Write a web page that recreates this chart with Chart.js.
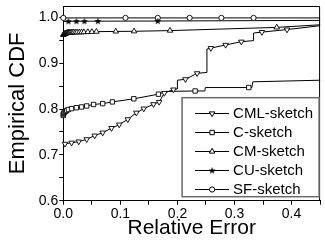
<!DOCTYPE html>
<html><head><meta charset="utf-8">
<script src="https://cdn.jsdelivr.net/npm/chart.js@4/dist/chart.umd.min.js"></script>
<style>html,body{margin:0;padding:0;background:#fff}#wrap{width:325px;height:244px}</style>
</head><body><div id="wrap"><canvas id="c" width="325" height="244"></canvas></div>
<script>
// ---------- data ----------
const seriesNames = ['CML-sketch', 'C-sketch', 'CM-sketch', 'CU-sketch', 'SF-sketch'];
const xTickLabels = ['0.0', '0.1', '0.2', '0.3', '0.4'];
const yTickLabels = ['0.6', '0.7', '0.8', '0.9', '1.0'];
const xAxisTitle = 'Relative Error';
const yAxisTitle = 'Empirical CDF';

// CML-sketch
const cmlLineX = [0, 0.003, 0.0145, 0.027, 0.041, 0.055, 0.069, 0.0845, 0.098, 0.113, 0.128, 0.141, 0.158, 0.168, 0.177, 0.193, 0.2, 0.2, 0.214, 0.2345, 0.2517, 0.2517, 0.2586, 0.2845, 0.312, 0.3334, 0.3334, 0.348, 0.392, 0.45];
const cmlLineY = [0.722, 0.724, 0.7265, 0.729, 0.734, 0.742, 0.7485, 0.7585, 0.766, 0.7775, 0.792, 0.801, 0.8105, 0.8155, 0.835, 0.8425, 0.844, 0.863, 0.865, 0.878, 0.880, 0.931, 0.933, 0.940, 0.947, 0.9495, 0.966, 0.968, 0.9735, 0.982];
const cmlMarkX = [0.003, 0.0145, 0.027, 0.041, 0.055, 0.069, 0.0845, 0.098, 0.113, 0.128, 0.141, 0.158, 0.168, 0.177, 0.193, 0.214, 0.2345, 0.2586, 0.2845, 0.312, 0.348, 0.392];
const cmlMarkY = [0.724, 0.7265, 0.729, 0.734, 0.742, 0.7485, 0.7585, 0.766, 0.7775, 0.792, 0.801, 0.8105, 0.8155, 0.835, 0.8425, 0.865, 0.878, 0.933, 0.940, 0.947, 0.968, 0.9735];

// C-sketch
const cLineX = [0, 0, 0.001, 0.002, 0.004, 0.006, 0.009, 0.0145, 0.023, 0.032, 0.041, 0.053, 0.069, 0.086, 0.1236, 0.1667, 0.18, 0.231, 0.248, 0.249, 0.3305, 0.332, 0.45];
const cLineY = [0.786, 0.789, 0.791, 0.793, 0.795, 0.797, 0.799, 0.801, 0.803, 0.8046, 0.8068, 0.810, 0.812, 0.8156, 0.8225, 0.8325, 0.8385, 0.8395, 0.8395, 0.847, 0.847, 0.8595, 0.863];
const cMarkX = [0, 0, 0.001, 0.002, 0.004, 0.006, 0.009, 0.0145, 0.023, 0.032, 0.041, 0.053, 0.069, 0.086, 0.1236, 0.1667, 0.231, 0.325];
const cMarkY = [0.786, 0.789, 0.791, 0.793, 0.795, 0.797, 0.799, 0.801, 0.803, 0.8046, 0.8068, 0.810, 0.812, 0.8156, 0.8225, 0.8325, 0.8395, 0.847];

// CM-sketch
const cmLineX = [0, 0.001, 0.002, 0.003, 0.004, 0.005, 0.006, 0.007, 0.008, 0.009, 0.010, 0.011, 0.012, 0.014, 0.016, 0.018, 0.021, 0.024, 0.028, 0.032, 0.036, 0.043, 0.05, 0.058, 0.092, 0.124, 0.187, 0.374, 0.45];
const cmLineY = [0.962, 0.9635, 0.964, 0.9645, 0.965, 0.9655, 0.966, 0.9663, 0.9665, 0.9667, 0.9668, 0.967, 0.967, 0.9672, 0.9673, 0.9674, 0.9675, 0.9676, 0.9677, 0.9678, 0.968, 0.9683, 0.9686, 0.969, 0.9695, 0.9698, 0.9713, 0.9783, 0.984];
const cmMarkX = [0, 0.001, 0.002, 0.003, 0.004, 0.005, 0.006, 0.007, 0.008, 0.009, 0.010, 0.011, 0.012, 0.014, 0.016, 0.018, 0.021, 0.024, 0.028, 0.032, 0.036, 0.043, 0.05, 0.058, 0.092, 0.124, 0.187, 0.374];
const cmMarkY = [0.962, 0.9635, 0.964, 0.9645, 0.965, 0.9655, 0.966, 0.9663, 0.9665, 0.9667, 0.9668, 0.967, 0.967, 0.9672, 0.9673, 0.9674, 0.9675, 0.9676, 0.9677, 0.9678, 0.968, 0.9683, 0.9686, 0.969, 0.9695, 0.9698, 0.9713, 0.9783];

// CU-sketch
const cuLineX = [0, 0.009, 0.023, 0.037, 0.0605, 0.1655, 0.45];
const cuLineY = [0.9912, 0.9917, 0.9918, 0.9918, 0.9919, 0.9922, 0.9936];
const cuMarkX = [0.009, 0.023, 0.037, 0.0605, 0.1655];
const cuMarkY = [0.9917, 0.9918, 0.9918, 0.9919, 0.9922];

// SF-sketch
const sfLineX = [0, 0.109, 0.1655, 0.2214, 0.277, 0.3334, 0.45];
const sfLineY = [0.999, 0.999, 0.999, 0.999, 0.999, 0.999, 0.999];
const sfMarkX = [0, 0.109, 0.1655, 0.2214, 0.277, 0.3334];
const sfMarkY = [0.999, 0.999, 0.999, 0.999, 0.999, 0.999];

// ---------- styles ----------
function makeStar() {
  const c = document.createElement('canvas');
  c.width = 8; c.height = 8;
  const g = c.getContext('2d');
  g.fillStyle = '#000';
  g.beginPath();
  for (let i = 0; i < 10; i++) {
    const r = i % 2 ? 1.5 : 3.8;
    const a = -Math.PI / 2 + i * Math.PI / 5;
    g.lineTo(4 + r * Math.cos(a), 4.3 + r * Math.sin(a));
  }
  g.closePath(); g.fill();
  return c;
}
const starImg = makeStar();
const FONT = '"Liberation Sans", Arial, Helvetica, sans-serif';
const styles = [
  { pointStyle: 'triangle', radius: 3.2, rotation: 180 },
  { pointStyle: 'rect', radius: 3.1, rotation: 0 },
  { pointStyle: 'triangle', radius: 3.2, rotation: 0 },
  { pointStyle: starImg, radius: 4, rotation: 0 },
  { pointStyle: 'circle', radius: 2.6, rotation: 0 }
];
const lines = [[cmlLineX, cmlLineY], [cLineX, cLineY], [cmLineX, cmLineY], [cuLineX, cuLineY], [sfLineX, sfLineY]];
const marks = [[cmlMarkX, cmlMarkY], [cMarkX, cMarkY], [cmMarkX, cmMarkY], [cuMarkX, cuMarkY], [sfMarkX, sfMarkY]];
const zip = (xs, ys) => xs.map((x, i) => ({ x: x, y: ys[i] }));

const datasets = [];
seriesNames.forEach((name, i) => {
  datasets.push({
    label: name + ' markers', data: zip(marks[i][0], marks[i][1]), showLine: false,
    pointStyle: styles[i].pointStyle, pointRadius: styles[i].radius, pointRotation: styles[i].rotation,
    pointBackgroundColor: '#fff', pointBorderColor: '#000', pointBorderWidth: 0.9, clip: false, order: 0
  });
});
seriesNames.forEach((name, i) => {
  datasets.push({
    label: name, data: zip(lines[i][0], lines[i][1]), showLine: true, pointRadius: 0,
    borderColor: '#000', borderWidth: 1, tension: 0, clip: false, order: 1
  });
});

function tickLabel(v, labels) {
  const t = Math.round(v * 10);
  if (Math.abs(v * 10 - t) > 1e-6) return '';
  const s = (t / 10).toFixed(1);
  return labels.includes(s) ? s : '';
}

const framePlugin = {
  id: 'frame',
  beforeDatasetsDraw(chart) {
    const a = chart.chartArea, ctx = chart.ctx;
    ctx.save(); ctx.strokeStyle = '#000'; ctx.lineWidth = 1;
    ctx.beginPath();
    ctx.moveTo(a.left, a.top + 0.5); ctx.lineTo(a.right - 0.5, a.top + 0.5); ctx.lineTo(a.right - 0.5, a.bottom);
    ctx.stroke();
    ctx.restore();
  }
};

const legendPlugin = {
  id: 'boxLegend',
  afterDatasetsDraw(chart) {
    const ctx = chart.ctx, a = chart.chartArea;
    const w = 137, h = 99;
    const x0 = a.right - 1 - w, y0 = a.bottom - 4 - h;
    ctx.save();
    ctx.fillStyle = '#fff'; ctx.fillRect(x0, y0, w, h);
    ctx.strokeStyle = '#6a6a6a'; ctx.lineWidth = 1.5; ctx.strokeRect(x0, y0, w, h);
    seriesNames.forEach((name, i) => {
      const y = Math.round(y0 + 15.5 + i * 19) + 0.5;
      ctx.strokeStyle = '#000'; ctx.lineWidth = 1;
      ctx.beginPath(); ctx.moveTo(x0 + 13, y); ctx.lineTo(x0 + 47, y); ctx.stroke();
      ctx.fillStyle = '#fff'; ctx.strokeStyle = '#000';
      Chart.helpers.drawPoint(ctx, { pointStyle: styles[i].pointStyle, radius: styles[i].radius, rotation: styles[i].rotation, borderWidth: 0.9 }, x0 + 30, y);
      ctx.fillStyle = '#000'; ctx.font = '15px ' + FONT; ctx.textBaseline = 'middle'; ctx.textAlign = 'left';
      ctx.fillText(name, x0 + 51, y);
    });
    ctx.restore();
  }
};

new Chart(document.getElementById('c'), {
  type: 'scatter',
  data: { datasets: datasets },
  plugins: [framePlugin, legendPlugin],
  options: {
    responsive: false, animation: false, devicePixelRatio: 1,
    layout: { padding: { top: 6, right: 1, left: 0, bottom: 0 } },
    plugins: { legend: { display: false }, tooltip: { enabled: false } },
    scales: {
      x: {
        type: 'linear', min: 0, max: 0.45,
        afterFit(s) { s.height = 43.3; s.paddingLeft = 0; s.paddingRight = 0; },
        border: { display: true, color: '#000', width: 1 },
        grid: { display: true, drawOnChartArea: false, drawTicks: true, tickLength: 4, color: '#000' },
        ticks: { stepSize: 0.05, autoSkip: false, maxRotation: 0, padding: 1, color: '#000',
          font: { family: FONT, size: 14 }, callback: v => tickLabel(v, xTickLabels) },
        title: { display: true, text: xAxisTitle, color: '#000', font: { family: FONT, size: 21 }, padding: { top: 0, bottom: 3 } }
      },
      y: {
        type: 'linear', min: 0.6, max: 1.025,
        afterFit(s) { s.width = 63.3; s.paddingTop = 0; s.paddingBottom = 0; },
        border: { display: true, color: '#000', width: 1 },
        grid: { display: true, drawOnChartArea: false, drawTicks: true, tickLength: 4, color: '#000' },
        ticks: { stepSize: 0.05, includeBounds: false, autoSkip: false, padding: 1, color: '#000',
          font: { family: FONT, size: 14 }, callback: v => tickLabel(v, yTickLabels) },
        title: { display: true, text: yAxisTitle, color: '#000', font: { family: FONT, size: 22 }, padding: { top: 5, bottom: 0 } }
      }
    }
  }
});
</script></body></html>
